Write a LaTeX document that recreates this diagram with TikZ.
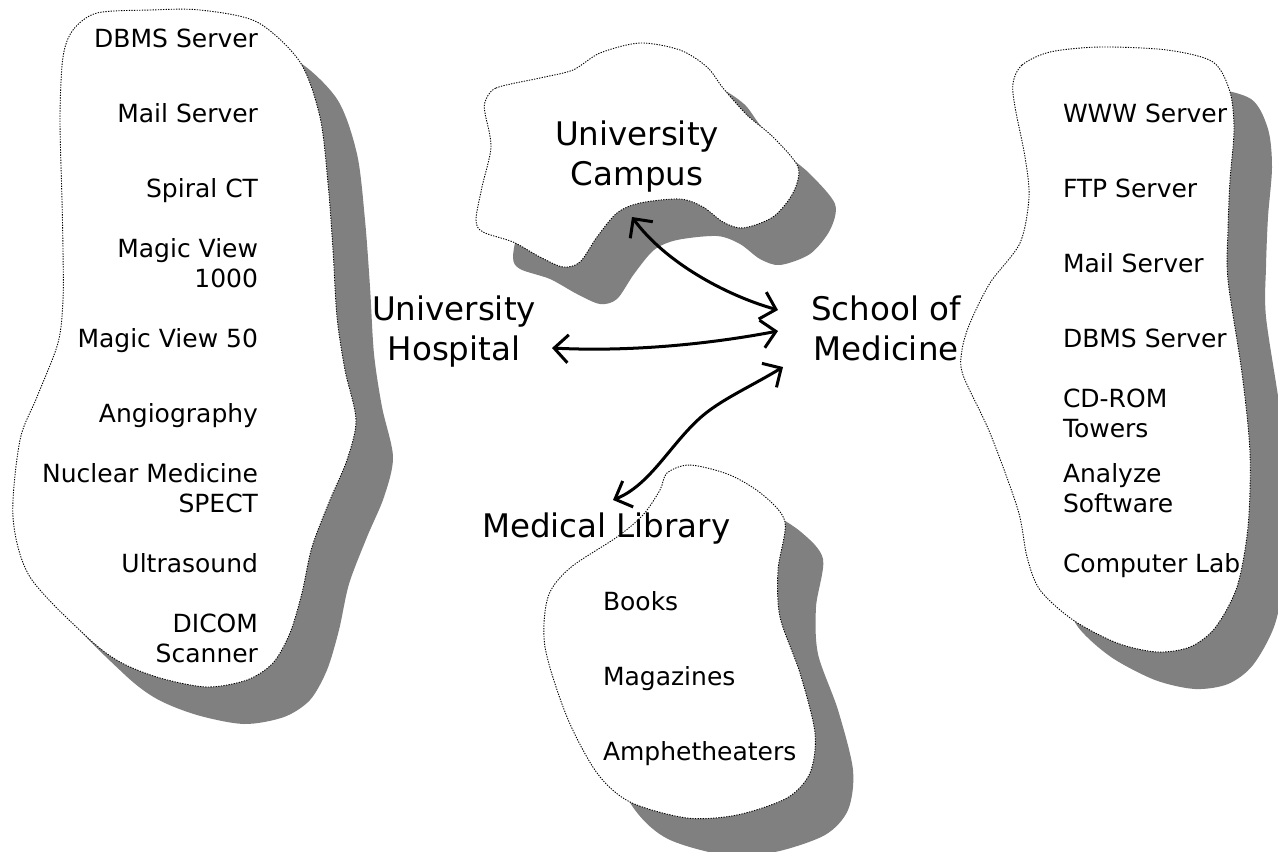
\documentclass[tikz,border=0pt]{standalone}
\usepackage{fontspec}
\setmainfont{DejaVu Sans}
\usetikzlibrary{arrows.meta}
\definecolor{shadowgray}{HTML}{808080}
\newcommand\blobLeft{plot[smooth cycle] coordinates {(97,13)(150,10)(200,10)(257,22)(300,62)(320,117)(328,183)(333,250)(337,317)(345,370)(356,420)(347,460)(330,500)(312,547)(302,593)(290,633)(273,663)(247,680)(207,687)(160,678)(120,662)(87,637)(30,577)(13,517)(20,440)(37,397)(58,343)(63,300)(63,250)(62,200)(60,117)(63,57)(73,30)}}
\newcommand\blobCampus{plot[smooth cycle] coordinates {(485,102)(496,88)(540,78)(573,70)(600,53)(640,43)(680,50)(707,67)(723,88)(747,115)(773,137)(798,167)(793,193)(773,217)(743,228)(723,222)(703,207)(680,199)(640,203)(617,213)(597,237)(580,262)(563,267)(540,257)(513,242)(483,232)(476,220)(482,187)(491,147)(485,113)}}
\newcommand\blobLibrary{plot[smooth cycle] coordinates {(667,473)(690,465)(730,475)(763,495)(785,522)(778,570)(780,617)(800,673)(815,733)(810,773)(787,798)(737,815)(687,818)(630,802)(597,773)(567,717)(545,647)(548,597)(570,568)(617,537)(643,515)(660,490)}}
\newcommand\blobRight{plot[smooth cycle] coordinates {(1013,83)(1022,65)(1050,52)(1100,47)(1167,50)(1213,62)(1230,92)(1234,130)(1230,180)(1228,230)(1228,280)(1242,373)(1250,453)(1248,527)(1237,587)(1215,628)(1190,647)(1157,652)(1117,643)(1073,620)(1040,590)(1027,557)(1018,510)(990,433)(963,375)(962,350)(970,323)(990,283)(1020,243)(1029,197)(1025,157)(1015,107)}}
\tikzset{
  shadowfill/.style={fill=shadowgray,draw=none},
  outline/.style={fill=white,draw=black,line width=.9pt,dash pattern=on 1.3pt off 1.3pt},
  small/.style={font=\fontsize{25}{30}\selectfont,inner sep=0pt,outer sep=0pt},
  smallr/.style={small,anchor=base east,align=right},
  smalll/.style={small,anchor=base west,align=left},
  big/.style={font=\fontsize{32.5}{40}\selectfont,inner sep=0pt,outer sep=0pt,anchor=base,align=center},
  conn/.style={draw=black,line width=3pt,{Straight Barb[length=14pt,width=28pt]}-{Straight Barb[length=14pt,width=28pt]}},
}
\begin{document}
\begin{tikzpicture}[x=1pt,y=-1pt]
\useasboundingbox (0,0) rectangle (1278,852);
\clip (0,0) rectangle (1278,852);
\fill[white] (0,0) rectangle (1278,852);
\path[shadowfill,shift={(37,37)}] \blobLeft;
\path[shadowfill,shift={(37,37)}] \blobCampus;
\path[shadowfill,shift={(38,37)}] \blobLibrary;
\path[shadowfill,shift={(38,37)}] \blobRight;
\path[outline] \blobLeft;
\path[outline] \blobCampus;
\path[outline] \blobLibrary;
\path[outline] \blobRight;
% left list
\node[smallr] (l1) at (258,47) {DBMS Server};
\node[smallr] (l2) at (258,122) {Mail Server};
\node[smallr] (l3) at (258,197) {Spiral CT};
\node[smallr] (l4) at (258,287) {Magic View\\1000};
\node[smallr] (l5) at (258,347) {Magic View 50};
\node[smallr] (l6) at (258,422) {Angiography};
\node[smallr] (l7) at (258,512) {Nuclear Medicine\\SPECT};
\node[smallr] (l8) at (258,572) {Ultrasound};
\node[smallr] (l9) at (258,662) {DICOM\\Scanner};
% right list
\node[smalll] (r1) at (1063,122) {WWW Server};
\node[smalll] (r2) at (1063,197) {FTP Server};
\node[smalll] (r3) at (1063,272) {Mail Server};
\node[smalll] (r4) at (1063,347) {DBMS Server};
\node[smalll] (r5) at (1063,437) {CD-ROM\\Towers};
\node[smalll] (r6) at (1063,512) {Analyze\\Software};
\node[smalll] (r7) at (1063,572) {Computer Lab};
% library list
\node[smalll] (b1) at (603,610) {Books};
\node[smalll] (b2) at (603,685) {Magazines};
\node[smalll] (b3) at (603,760) {Amphetheaters};
% big labels
\node[big] (campus) at (637,185) {University\\Campus};
\node[big] (hospital) at (454,360) {University\\Hospital};
\node[big] (school) at (886,360) {School of\\Medicine};
\node[big,anchor=base west] (library) at (482,537) {Medical Library};
% connectors
\coordinate (campusEnd) at (632,217);
\coordinate (schoolA) at (778,310);
\coordinate (hospitalEnd) at (552,348);
\coordinate (schoolB) at (778,331);
\coordinate (schoolC) at (783,367);
\coordinate (libraryBend) at (700,418);
\coordinate (libraryEnd) at (613,500);
\draw[conn] (campusEnd) .. controls (665,262) and (725,295) .. (schoolA);
\draw[conn] (hospitalEnd) .. controls (630,352) and (710,344) .. (schoolB);
\draw[conn] (schoolC) .. controls (750,387) and (720,400) .. (libraryBend) .. controls (670,445) and (650,485) .. (libraryEnd);
\end{tikzpicture}
\end{document}
